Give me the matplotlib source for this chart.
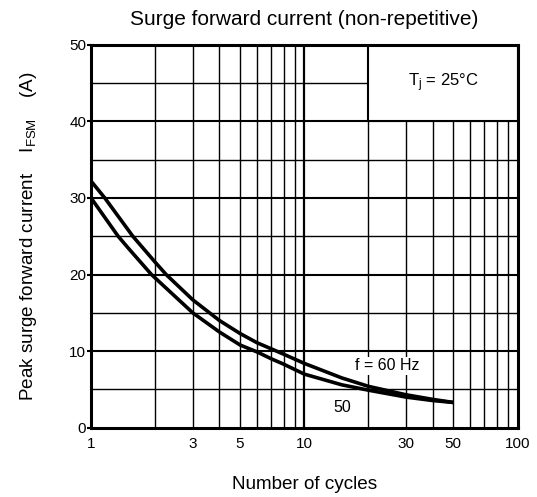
#!/usr/bin/env python3
"""Surge forward current (non-repetitive) vs number of cycles."""

import matplotlib
matplotlib.use('Agg')
import matplotlib.pyplot as plt
from matplotlib.patches import Rectangle
from matplotlib.ticker import FixedLocator, NullFormatter

plt.rcParams['font.family'] = ['Liberation Sans', 'DejaVu Sans']
plt.rcParams['mathtext.fontset'] = 'custom'
plt.rcParams['mathtext.rm'] = 'Liberation Sans'
plt.rcParams['mathtext.it'] = 'Liberation Sans'

# ── Data ──────────────────────────────────────────────────────────
cycles_60hz = [1, 1.16, 1.57, 2, 2.25, 3, 4, 5, 6, 7, 8, 10, 15, 20, 30, 40, 50]
ifsm_60hz = [32.2, 30.0, 25.0, 21.6, 20.0, 16.7, 14.0, 12.3, 11.1, 10.3, 9.6, 8.4,
             6.5, 5.4, 4.3, 3.7, 3.3]
cycles_50hz = [1, 1.34, 1.5, 1.92, 3, 4, 5, 6, 7, 8, 10, 15, 20, 30, 40, 50]
ifsm_50hz = [30.0, 25.0, 23.4, 20.0, 15.0, 12.5, 10.8, 9.9, 9.0, 8.3, 7.0,
             5.6, 4.9, 4.0, 3.55, 3.3]

x_ticks = [1, 3, 5, 10, 30, 50, 100]
y_ticks = [0, 10, 20, 30, 40, 50]

fig = plt.figure(figsize=(5.37, 4.97), dpi=100)
ax = fig.add_axes([0.1695, 0.1394, 0.7942, 0.7706])
ax.set_xscale('log')
ax.set_xlim(1, 100)
ax.set_ylim(0, 50)

# ── Grid ──────────────────────────────────────────────────────────
for dec in (1, 10):
    for k in range(2, 10):
        ax.axvline(dec * k, color='black', lw=1.0, zorder=1)
ax.axvline(10, color='black', lw=1.6, zorder=1)
for y in range(5, 50, 5):
    ax.axhline(y, color='black', lw=1.5 if y % 10 == 0 else 1.0, zorder=1)

# ── Curves ────────────────────────────────────────────────────────
ax.plot(cycles_60hz, ifsm_60hz, color='black', lw=2.6, zorder=3, solid_capstyle='butt')
ax.plot(cycles_50hz, ifsm_50hz, color='black', lw=2.6, zorder=3, solid_capstyle='butt')

# ── Annotation box ────────────────────────────────────────────────
ax.add_patch(Rectangle((20, 40), 80, 10, facecolor='white', edgecolor='black',
                       lw=1.5, zorder=2))
ax.text(44.7, 45, r'T$_\mathrm{j}$ = 25°C', ha='center', va='center',
        fontsize=12, zorder=4)
ax.text(24.4, 8.1, 'f = 60 Hz', ha='center', va='center', fontsize=11.5, zorder=4,
        bbox=dict(facecolor='white', edgecolor='none', pad=1.0))
ax.text(15.0, 2.6, '50', ha='center', va='center', fontsize=11.5, zorder=4)

# ── Axes styling ──────────────────────────────────────────────────
for sp in ax.spines.values():
    sp.set_linewidth(2.2)
    sp.set_zorder(5)
ax.xaxis.set_major_locator(FixedLocator(x_ticks))
ax.xaxis.set_minor_formatter(NullFormatter())
ax.set_xticklabels([str(v) for v in x_ticks])
ax.set_yticks(y_ticks)
ax.tick_params(axis='x', which='both', length=0, pad=7, labelsize=11)
ax.tick_params(axis='y', which='major', length=3, width=1.5, pad=0.5, labelsize=11)
ax.tick_params(axis='y', which='minor', length=0)

ax.set_title('Surge forward current (non-repetitive)', fontsize=15, pad=14)
ax.set_xlabel('Number of cycles', fontsize=13.6, labelpad=18)
ax.set_ylabel(r'Peak surge forward current    I$_\mathrm{FSM}$    (A)',
              fontsize=13.6, labelpad=22)

fig.savefig('out.png', dpi=100)
